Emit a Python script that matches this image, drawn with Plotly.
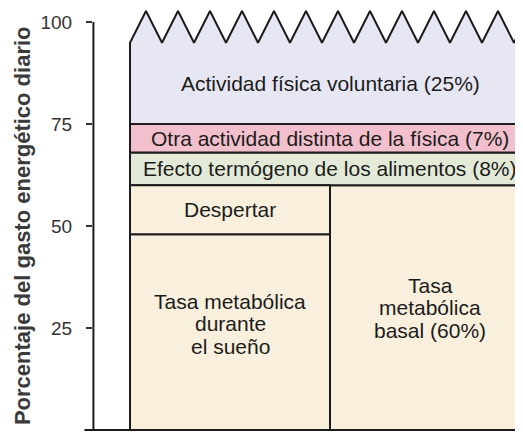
import numpy as np
import plotly.graph_objects as go

# Daily energy expenditure breakdown (% of total)
band_labels = [
    "Tasa<br>metabólica<br>basal (60%)",
    "Efecto termógeno de los alimentos (8%)",
    "Otra actividad distinta de la física (7%)",
    "Actividad física voluntaria (25%)",
]
band_values = [60, 8, 7, 25]
band_colors = ["#f8efdc", "#e3ebd8", "#f2bfcc", "#e7e7f3"]

# basal rate split on the left column
basal_labels = ["Tasa metabólica<br>durante<br>el sueño", "Despertar"]
basal_values = [48, 12]

y_ticks = [0, 25, 50, 75, 100]
y_title = "Porcentaje del gasto energético diario"

FONT = "Liberation Sans, Arial, sans-serif"
INK = "#1c1c1c"
LINE_H = 22.5

fig = go.Figure()


def rect(x0, x1, y0, y1, color):
    fig.add_trace(go.Scatter(
        x=[x0, x1, x1, x0, x0], y=[y0, y0, y1, y1, y0],
        mode="lines", fill="toself", fillcolor=color,
        line=dict(color=INK, width=2), hoverinfo="skip", showlegend=False,
    ))


def label(text, x, y, size=21):
    lines = text.split("<br>")
    n = len(lines)
    for i, ln in enumerate(lines):
        fig.add_annotation(
            x=x, y=y, text=ln, showarrow=False,
            yshift=-(i - (n - 1) / 2) * LINE_H,
            font=dict(family=FONT, size=size, color=INK),
        )


bottoms = np.concatenate([[0], np.cumsum(band_values)[:-1]])
tops = np.cumsum(band_values)

# full-width bands (last one gets the zig-zag "break" top)
for i, (b, t, c) in enumerate(zip(bottoms, tops, band_colors)):
    if i < len(band_values) - 1:
        rect(0, 1.05, b, t, c)
    else:
        zx = np.arange(0, 1.08, 0.04)
        zy = np.where(np.arange(len(zx)) % 2 == 0, t - 5.1, t + 2.7)
        fig.add_trace(go.Scatter(
            x=np.concatenate([[0], zx, [zx[-1], 0]]),
            y=np.concatenate([[b], zy, [b, b]]),
            mode="lines", fill="toself", fillcolor=c,
            line=dict(color=INK, width=2), hoverinfo="skip", showlegend=False,
        ))

# left column: sleep + waking
sb = np.concatenate([[0], np.cumsum(basal_values)[:-1]])
st = np.cumsum(basal_values)
for b, t in zip(sb, st):
    rect(0, 0.5, b, t, band_colors[0])

# labels
label(band_labels[0], 0.75, band_values[0] / 2)
for i in range(1, len(band_values) - 1):
    label(band_labels[i], 0.5, (bottoms[i] + tops[i]) / 2)
label(band_labels[-1], 0.5, bottoms[-1] + 10)
label(basal_labels[0], 0.25, 26)
label(basal_labels[1], 0.25, (sb[1] + st[1]) / 2)

# axis lines
fig.add_shape(type="line", xref="paper", yref="y", x0=0.001, x1=0.001,
              y0=0, y1=100, line=dict(color=INK, width=2))
fig.add_shape(type="line", xref="paper", yref="y", x0=-0.02, x1=1,
              y0=0, y1=0, line=dict(color=INK, width=2))

fig.add_annotation(
    xref="paper", yref="y", x=-0.165, y=50, text=f"<b>{y_title}</b>",
    textangle=-90, showarrow=False, xanchor="center", yanchor="middle",
    font=dict(family=FONT, size=22, color="#3a3a3a"),
)

# page body has an 8px margin, so the figure is 8px smaller each way
fig.update_layout(
    width=515, height=426,
    margin=dict(l=85, r=0, t=0, b=0),
    paper_bgcolor="white", plot_bgcolor="white",
    xaxis=dict(visible=False, range=[-0.0925, 0.9825]),
    yaxis=dict(
        range=[-0.98, 103.43], tickvals=y_ticks,
        showgrid=False, zeroline=False, showline=False,
        ticks="outside", ticklen=6, tickwidth=1.5, tickcolor="#333",
        ticklabelstandoff=10,
        tickfont=dict(family=FONT, size=19, color="#333"),
    ),
)

fig.write_html("out.html")
